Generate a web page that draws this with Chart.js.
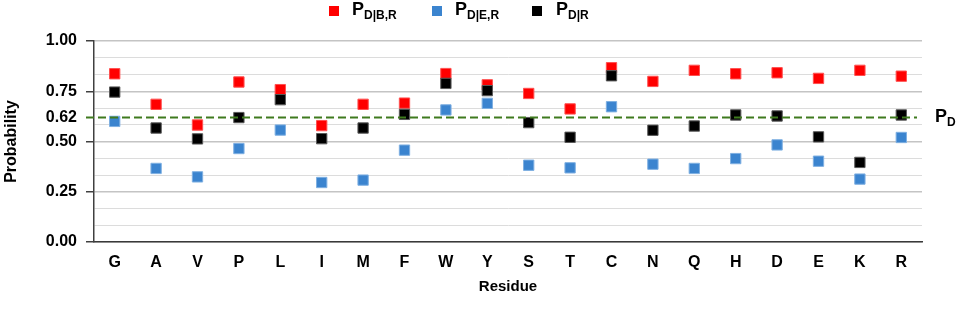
<!DOCTYPE html>
<html>
<head>
<meta charset="utf-8">
<script src="https://cdn.jsdelivr.net/npm/chart.js@4.4.1/dist/chart.umd.min.js"></script>
<style>
    html, body {
        margin: 0;
        padding: 0;
        background: #ffffff;
    }

    #wrap {
        position: relative;
        width: 957px;
        height: 315px;
        font-family: "Liberation Sans", Arial, sans-serif;
        font-weight: bold;
        color: #000000;
    }

    #chart {
        position: absolute;
        left: 0;
        top: 0;
    }

    .lg-box {
        position: absolute;
        width: 10px;
        height: 10px;
        top: 6px;
    }

    .lg-text, .pd-text {
        position: absolute;
        font-size: 18px;
        line-height: 18px;
        white-space: nowrap;
    }

    .lg-text sub, .pd-text sub {
        font-size: 12px;
        vertical-align: -4px;
        line-height: 0;
    }
</style>
</head>
<body>
<div id="wrap">
    <canvas id="chart" width="957" height="315"></canvas>

    <div class="lg-box" style="left: 329px; background: #ff0000;"></div>
    <div class="lg-text" style="left: 352px; top: 0px;">P<sub>D|B,R</sub></div>

    <div class="lg-box" style="left: 432px; background: #3b84cf;"></div>
    <div class="lg-text" style="left: 455px; top: 0px;">P<sub>D|E,R</sub></div>

    <div class="lg-box" style="left: 532px; background: #000000;"></div>
    <div class="lg-text" style="left: 556px; top: 0px;">P<sub>D|R</sub></div>

    <div class="pd-text" style="left: 935px; top: 107px;">P<sub>D</sub></div>
</div>

<script>
const residues = ['G', 'A', 'V', 'P', 'L', 'I', 'M', 'F', 'W', 'Y', 'S', 'T', 'C', 'N', 'Q', 'H', 'D', 'E', 'K', 'R'];

// P(D|B,R)
const pBound = [0.837, 0.685, 0.582, 0.796, 0.758, 0.579, 0.685, 0.691, 0.838, 0.782, 0.739, 0.662, 0.867, 0.799, 0.854, 0.837, 0.842, 0.814, 0.854, 0.825];

// P(D|E,R)
const pExposed = [0.600, 0.366, 0.324, 0.465, 0.557, 0.296, 0.308, 0.457, 0.657, 0.690, 0.382, 0.369, 0.673, 0.387, 0.366, 0.415, 0.483, 0.402, 0.313, 0.520];

// P(D|R)
const pResidue = [0.746, 0.567, 0.513, 0.619, 0.708, 0.514, 0.567, 0.635, 0.789, 0.753, 0.594, 0.521, 0.827, 0.556, 0.577, 0.632, 0.627, 0.523, 0.396, 0.632];

// overall P(D), drawn as the dashed reference line
const pD = 0.62;

const yTickLabels = [0, 0.25, 0.5, 0.62, 0.75, 1.0];
const yMinorStep = 1 / 12;

const isMajor = (v) => Math.abs(v * 4 - Math.round(v * 4)) < 1e-6;
const isPd = (v) => Math.abs(v - pD) < 1e-6;

// dashed P_D line, starting where the axis tick marks start
const pdLinePlugin = {
    id: 'pdLine',
    afterDatasetsDraw(chart) {
        const ctx = chart.ctx;
        const y = chart.scales.y.getPixelForValue(pD);
        const area = chart.chartArea;

        ctx.save();
        ctx.strokeStyle = '#3f7a1e';
        ctx.lineWidth = 2;
        ctx.setLineDash([8, 4]);
        ctx.beginPath();
        ctx.moveTo(area.left - 8, y);
        ctx.lineTo(area.right - 5, y);
        ctx.stroke();
        ctx.restore();
    }
};

function pointSet(label, data, fill, border, order) {
    return {
        label: label,
        data: data,
        showLine: false,
        pointStyle: 'rect',
        pointRadius: 7.3,
        pointHoverRadius: 7.3,
        pointBackgroundColor: fill,
        pointBorderColor: border,
        pointBorderWidth: 1,
        order: order
    };
}

const ctx = document.getElementById('chart');

new Chart(ctx, {
    type: 'line',
    data: {
        labels: residues,
        datasets: [
            pointSet('PD|B,R', pBound, '#ff0000', '#ff5050', 3),
            pointSet('PD|E,R', pExposed, '#3b84cf', '#7fb0e2', 2),
            pointSet('PD|R', pResidue, '#000000', '#5a5a5a', 1)
        ]
    },
    options: {
        responsive: false,
        animation: false,
        layout: {
            padding: { left: 0, right: 35, top: 41, bottom: 0 }
        },
        plugins: {
            legend: { display: false },
            tooltip: { enabled: false }
        },
        scales: {
            x: {
                offset: true,
                grid: { display: false, drawTicks: false },
                border: { display: true, color: '#3a3a3a', width: 1.5 },
                ticks: {
                    color: '#000000',
                    padding: 11,
                    font: { family: 'Liberation Sans', size: 16, weight: 'bold' }
                },
                title: {
                    display: true,
                    text: 'Residue',
                    color: '#000000',
                    padding: { top: 8, bottom: 19 },
                    font: { family: 'Liberation Sans', size: 15, weight: 'bold' }
                },
                afterFit: function (scale) {
                    scale.height = 73;
                }
            },
            y: {
                min: 0,
                max: 1,
                afterBuildTicks: function (scale) {
                    const ticks = [];
                    for (let i = 0; i <= 12; i++) {
                        ticks.push({ value: i * yMinorStep });
                    }
                    ticks.push({ value: pD });
                    ticks.sort((a, b) => a.value - b.value);
                    scale.ticks = ticks;
                },
                grid: {
                    color: function (c) {
                        const v = c.tick.value;
                        if (isPd(v)) return 'rgba(0,0,0,0)';
                        return isMajor(v) ? '#c4c4c4' : '#dcdcdc';
                    },
                    lineWidth: function (c) {
                        return isMajor(c.tick.value) ? 1.5 : 1;
                    },
                    tickColor: function (c) {
                        return isMajor(c.tick.value) ? '#404040' : 'rgba(0,0,0,0)';
                    },
                    tickLength: 8
                },
                border: { display: true, color: '#404040', width: 1.5 },
                ticks: {
                    autoSkip: false,
                    color: '#000000',
                    padding: 9,
                    font: { family: 'Liberation Sans', size: 16, weight: 'bold' },
                    callback: function (value) {
                        const hit = yTickLabels.find(t => Math.abs(t - value) < 1e-6);
                        return hit === undefined ? '' : hit.toFixed(2);
                    }
                },
                title: {
                    display: true,
                    text: 'Probability',
                    color: '#000000',
                    padding: { top: 2, bottom: 4 },
                    font: { family: 'Liberation Sans', size: 16, weight: 'bold' }
                },
                afterFit: function (scale) {
                    scale.width = 94;
                }
            }
        }
    },
    plugins: [pdLinePlugin]
});
</script>
</body>
</html>
